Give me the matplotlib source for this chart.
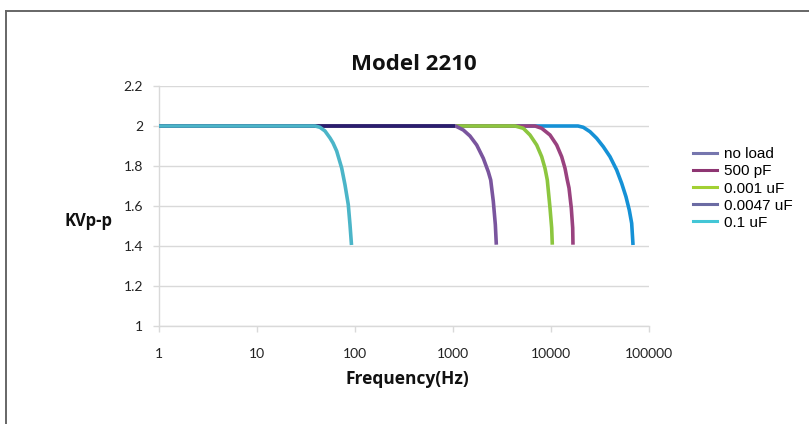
import matplotlib
matplotlib.use("Agg")
import matplotlib.pyplot as plt
from matplotlib.lines import Line2D

# ---- data ----
series_names = ["no load", "500 pF", "0.001 uF", "0.0047 uF", "0.1 uF"]

freq_noload = [1, 18860, 21360, 25000, 29250, 34180, 40000, 46790, 52620, 58200, 62900, 66560, 68200, 68700]
v_noload = [2.0, 2.0, 1.9935, 1.9715, 1.9385, 1.8965, 1.8465, 1.78, 1.7135, 1.6465, 1.58, 1.5135, 1.43, 1.405]

freq_500pf = [1, 6870, 8036, 9770, 11430, 12850, 13900, 14660, 15270, 16110, 16650, 16760]
v_500pf = [2.0, 2.0, 1.9885, 1.955, 1.905, 1.8465, 1.7885, 1.73, 1.69, 1.59, 1.49, 1.4065]

freq_0001uf = [1, 4295, 5215, 6105, 7145, 8036, 8685, 9165, 9770, 10160, 10310]
v_0001uf = [2.0, 2.0, 1.9885, 1.955, 1.905, 1.8465, 1.7885, 1.73, 1.59, 1.49, 1.4065]

freq_00047uf = [1, 1048, 1091, 1274, 1490, 1745, 2038, 2291, 2425, 2578, 2704, 2767]
v_00047uf = [2.0, 2.0, 1.997, 1.98, 1.95, 1.905, 1.8385, 1.7715, 1.73, 1.6235, 1.5065, 1.4065]

freq_01uf = [1, 39.1, 43.9, 49.4, 55.6, 59.7, 65.0, 68.7, 73.1, 79.0, 85.4, 88.9, 92.1]
v_01uf = [2.0, 2.0, 1.9935, 1.975, 1.94, 1.915, 1.875, 1.835, 1.79, 1.7065, 1.6065, 1.5065, 1.405]

x_ticks = [1, 10, 100, 1000, 10000, 100000]
x_tick_labels = ["1", "10", "100", "1000", "10000", "100000"]
y_ticks = [1, 1.2, 1.4, 1.6, 1.8, 2, 2.2]
y_tick_labels = ["1", "1.2", "1.4", "1.6", "1.8", "2", "2.2"]

# ---- styles ----
c_noload = "#1591d6"
c_500 = "#99427f"
c_0001 = "#8cc63f"
c_00047 = "#7a559e"
c_00047_flat = "#2a1e6e"
c_01 = "#4bb5c8"
legend_colors = ["#7676ae", "#8e3572", "#a2d033", "#6b6ba3", "#43c6d6"]

W, H = 809, 424
fig = plt.figure(figsize=(W / 100, H / 100), dpi=100)
fig.patch.set_facecolor("white")

ax = fig.add_axes([159 / W, 1 - 326 / H, (649 - 159) / W, (326 - 86) / H])
ax.set_xscale("log")
ax.set_xlim(1, 100000)
ax.set_ylim(1, 2.2)

lw = 2.6
kw = dict(lw=lw, solid_capstyle="butt", solid_joinstyle="round")
ax.plot(freq_noload, v_noload, color=c_noload, zorder=3, **kw)
ax.plot(freq_500pf, v_500pf, color=c_500, zorder=4, **kw)
ax.plot(freq_0001uf, v_0001uf, color=c_0001, zorder=5, **kw)
ax.plot(freq_00047uf, v_00047uf, color=c_00047, zorder=6, **kw)
ax.plot(freq_00047uf[:2], v_00047uf[:2], color=c_00047_flat, zorder=6.5, **kw)
ax.plot(freq_01uf, v_01uf, color=c_01, zorder=7, **kw)

# grid and axes
ax.set_yticks(y_ticks)
ax.set_yticklabels(y_tick_labels)
ax.set_xticks(x_ticks)
ax.set_xticklabels(x_tick_labels)
ax.minorticks_off()
ax.yaxis.grid(True, color="#d9d9d9", lw=1.0, zorder=0)
ax.set_axisbelow(True)
for s in ["top", "right"]:
    ax.spines[s].set_visible(False)
for s in ["left", "bottom"]:
    ax.spines[s].set_color("#d9d9d9")
    ax.spines[s].set_linewidth(1.0)
ax.tick_params(axis="both", which="major", color="#d9d9d9", length=4.5, width=1.0,
               labelsize=10, labelcolor="#222222")
ax.tick_params(axis="y", pad=7)
ax.tick_params(axis="x", pad=11)
for lab in ax.get_xticklabels() + ax.get_yticklabels():
    lab.set_fontfamily("Lato")

# titles / labels
fig.text(414 / W, 1 - 64 / H, "Model 2210", ha="center", va="center",
         fontsize=16, fontweight="bold", family="Open Sans", color="#111111")
fig.text(407 / W, 1 - 379 / H, "Frequency(Hz)", ha="center", va="center",
         fontsize=12.5, fontweight="bold", family="Open Sans", color="#111111")
fig.text(88 / W, 1 - 221 / H, "KVp-p", ha="center", va="center",
         fontsize=12, fontweight="bold", family="Open Sans", color="#111111")

# legend
handles = [Line2D([], [], color=c, lw=2.2) for c in legend_colors]
leg = fig.legend(handles, series_names, loc="center left",
                 bbox_to_anchor=(693 / W, 1 - 188.5 / H), bbox_transform=fig.transFigure,
                 frameon=False, borderaxespad=0, borderpad=0,
                 handlelength=1.6, handletextpad=0.4, labelspacing=0.2,
                 prop={"family": "Liberation Sans", "size": 11})

# outer frame lines (top and left)
fig.add_artist(Line2D([6 / W, 6 / W], [0, 1 - 11 / H], transform=fig.transFigure,
                      color="#666666", lw=1.4))
fig.add_artist(Line2D([6 / W, 1], [1 - 11 / H, 1 - 11 / H], transform=fig.transFigure,
                      color="#666666", lw=1.4))

fig.savefig("out.png", dpi=100, facecolor="white")
